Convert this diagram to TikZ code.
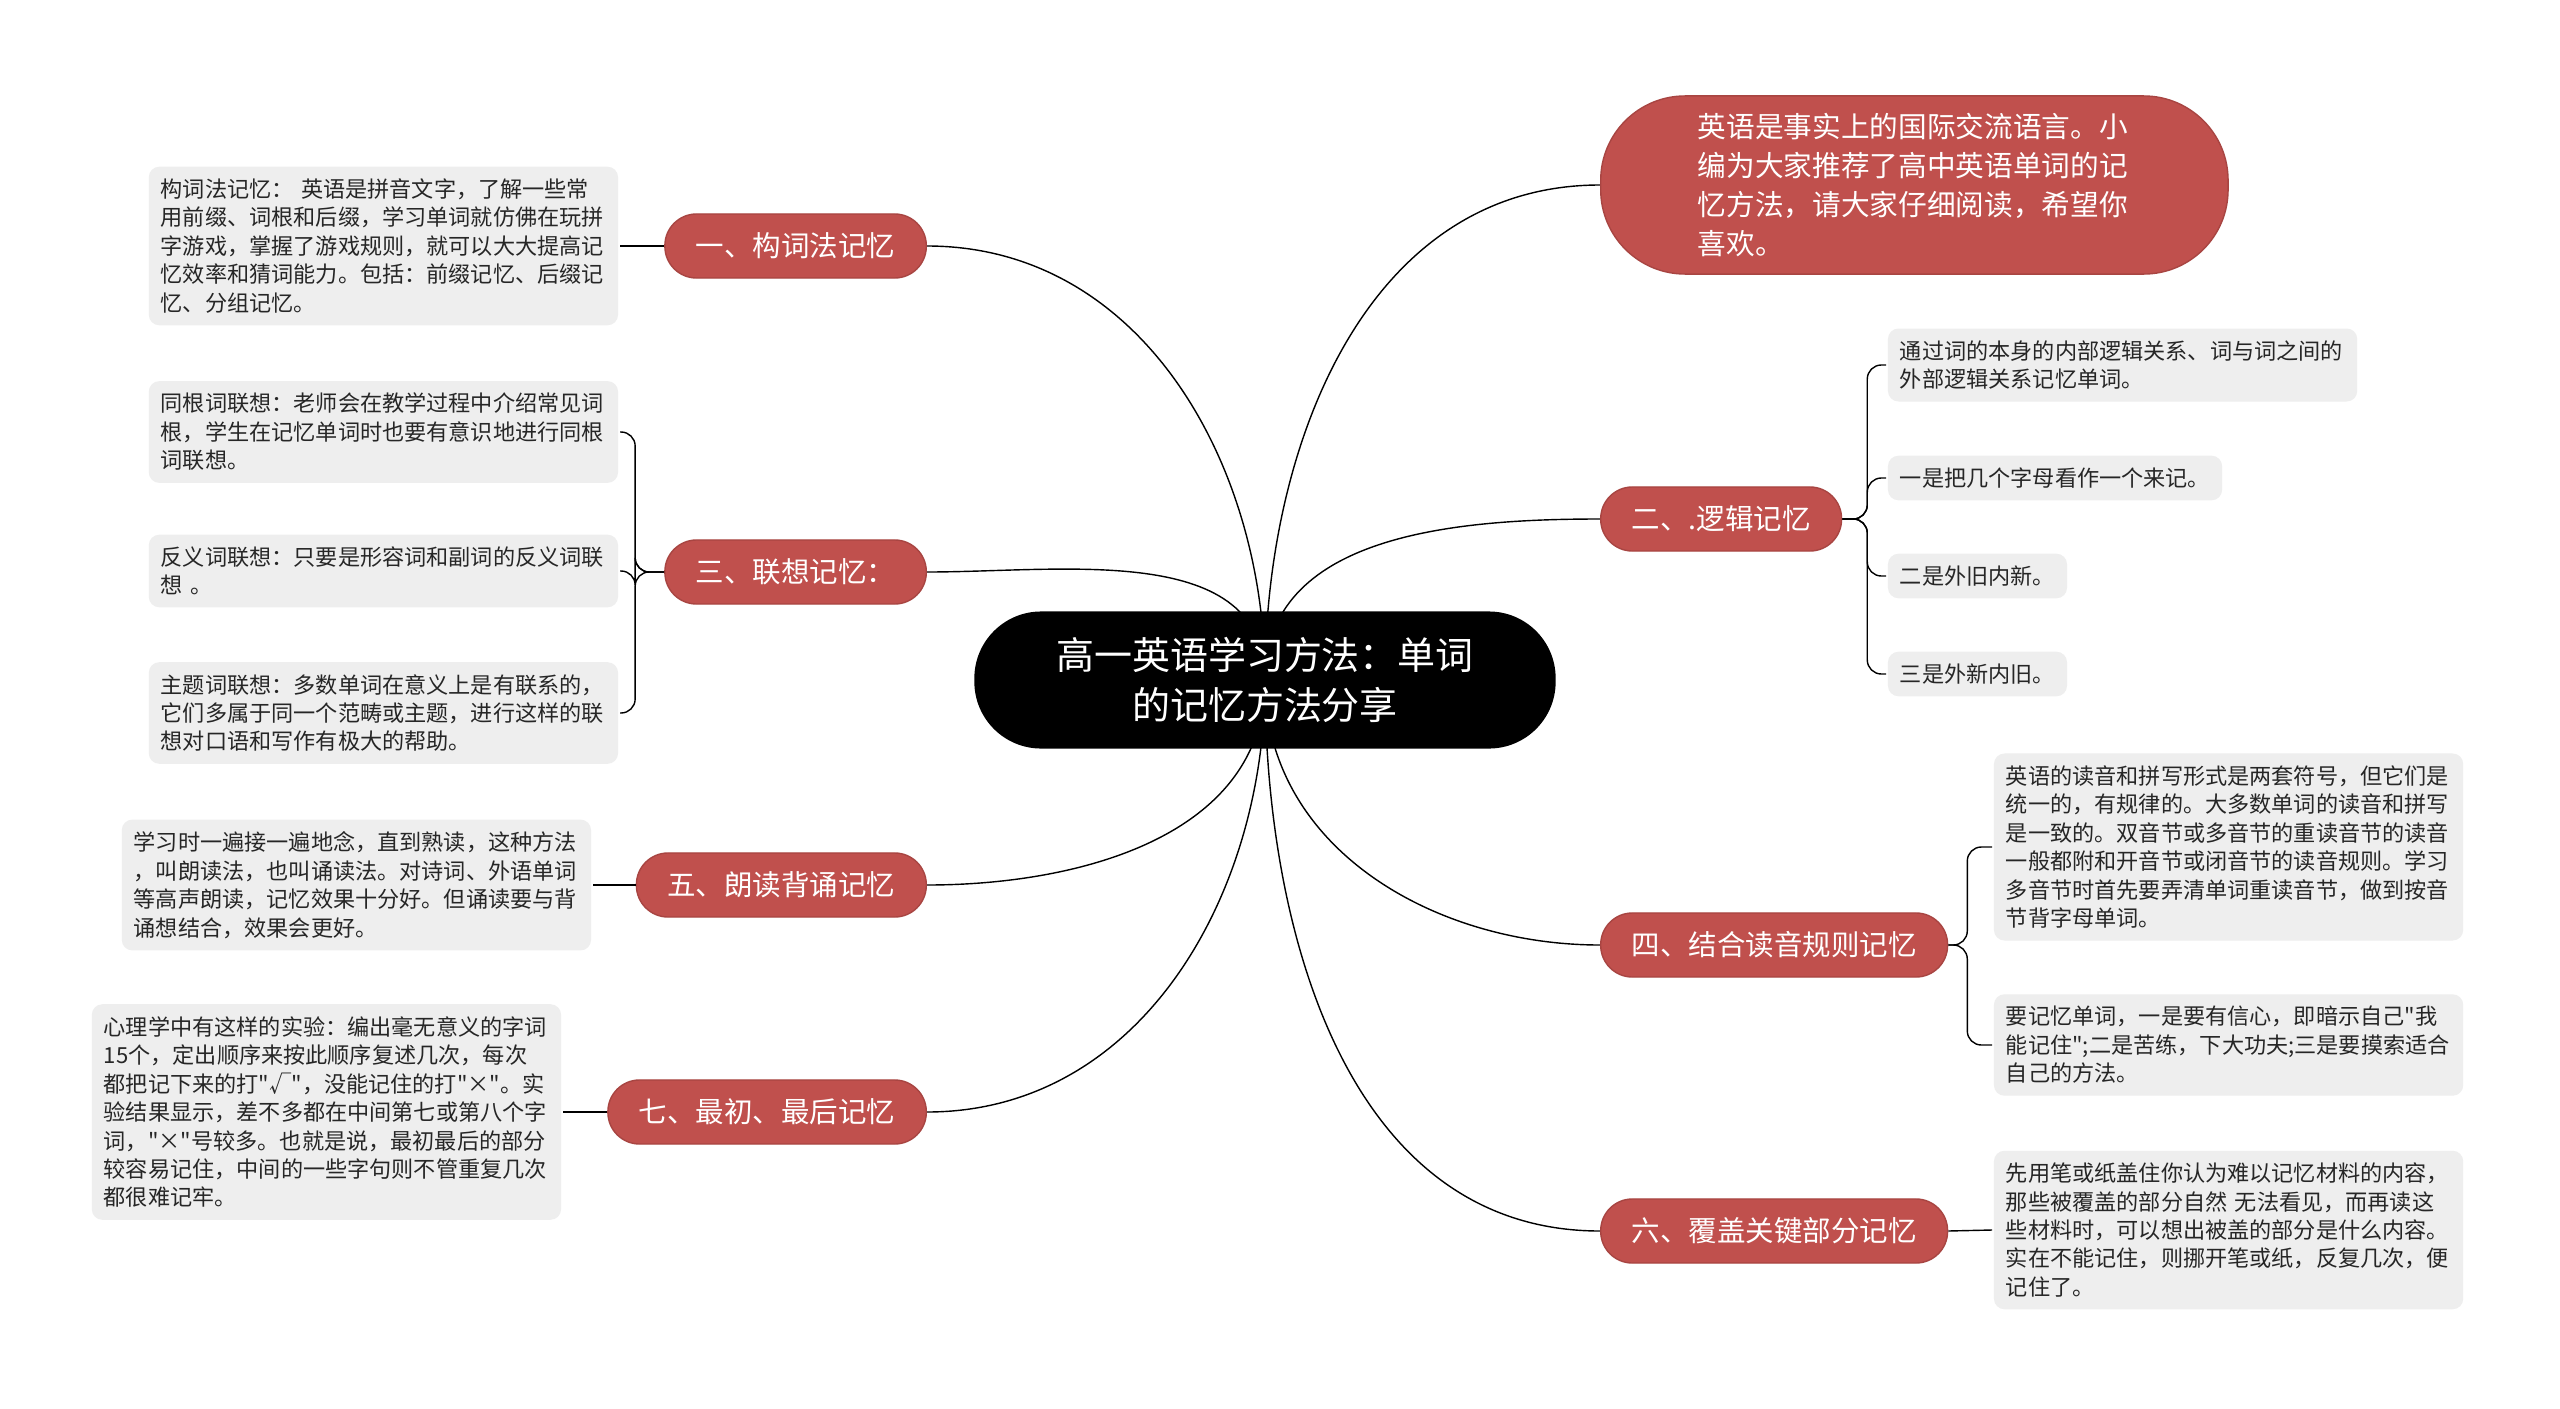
\documentclass[tikz,border=0pt]{standalone}
\usepackage{fontspec}
\setmainfont{Noto Sans CJK SC}[Ligatures=TeXOff]
\usepackage{xcolor}
\usepackage{tikz}
\usetikzlibrary{backgrounds}

\definecolor{branchred}{HTML}{C0504D}
\definecolor{branchedge}{HTML}{A84542}
\definecolor{leafgray}{HTML}{EEEEEE}

\begin{document}
\begin{tikzpicture}[x=0.01cm, y=-0.01cm, line width=1.1pt,
        hub/.style={fill=black, text=white, rounded corners=19pt, align=center,
            minimum width=5.81cm, minimum height=1.37cm, font=\fontsize{10.8pt}{14.4pt}\selectfont},
        intro/.style={fill=branchred, draw=branchedge, line width=0.4pt, text=white, rounded corners=24pt,
            align=left, text width=4.33cm, minimum width=6.27cm, minimum height=1.78cm,
            font=\fontsize{8.15pt}{11pt}\selectfont},
        branch/.style={fill=branchred, draw=branchedge, line width=0.4pt, text=white, rounded corners=9pt,
            minimum height=0.64cm, inner xsep=0.31cm, font=\fontsize{8.1pt}{10pt}\selectfont},
        leaf/.style={fill=leafgray, text=black!85, rounded corners=3pt, align=left, inner sep=0.12cm,
            font=\fontsize{6.3pt}{8.1pt}\selectfont},
        wide/.style={leaf, text width=4.45cm}]
        \useasboundingbox (0,0) rectangle (2560,1409);

        % centre and first level
        \node[hub] (root) at (1265,680)
            {高一英语学习方法：单词\\的记忆方法分享};
        \node[intro, anchor=west] (intro) at (1600,185)
            {英语是事实上的国际交流语言。小\\编为大家推荐了高中英语单词的记\\忆方法，请大家仔细阅读，希望你\\喜欢。};
        \node[branch, anchor=east] (r1) at (927,246) {一、构词法记忆};
        \node[branch, anchor=east] (r3) at (927,572) {三、联想记忆：};
        \node[branch, anchor=east] (r5) at (927,885) {五、朗读背诵记忆};
        \node[branch, anchor=east] (r7) at (927,1112) {七、最初、最后记忆};
        \node[branch, anchor=west] (r2) at (1600,519) {二、.逻辑记忆};
        \node[branch, anchor=west] (r4) at (1600,945) {四、结合读音规则记忆};
        \node[branch, anchor=west] (r6) at (1600,1231) {六、覆盖关键部分记忆};

        % left leaves
        \node[wide, anchor=east] (k1) at (620,246)
            {构词法记忆： 英语是拼音文字，了解一些常\\用前缀、词根和后缀，学习单词就仿佛在玩拼\\字游戏，掌握了游戏规则，就可以大大提高记\\忆效率和猜词能力。包括：前缀记忆、后缀记\\忆、分组记忆。};
        \node[wide, anchor=east] (a1) at (620,432)
            {同根词联想：老师会在教学过程中介绍常见词\\根，学生在记忆单词时也要有意识地进行同根\\词联想。};
        \node[wide, anchor=east] (a2) at (620,571)
            {反义词联想：只要是形容词和副词的反义词联\\想 。};
        \node[wide, anchor=east] (a3) at (620,713)
            {主题词联想：多数单词在意义上是有联系的，\\它们多属于同一个范畴或主题，进行这样的联\\想对口语和写作有极大的帮助。};
        \node[wide, anchor=east] (s1) at (593,885)
            {学习时一遍接一遍地念，直到熟读，这种方法\\，叫朗读法，也叫诵读法。对诗词、外语单词\\等高声朗读，记忆效果十分好。但诵读要与背\\诵想结合，效果会更好。};
        \node[wide, anchor=east] (f1) at (563,1112)
            {心理学中有这样的实验：编出毫无意义的字词\\15个，定出顺序来按此顺序复述几次，每次\\都把记下来的打"√"，没能记住的打"×"。实\\验结果显示，差不多都在中间第七或第八个字\\词，"×"号较多。也就是说，最初最后的部分\\较容易记住，中间的一些字句则不管重复几次\\都很难记牢。};

        % right leaves
        \node[wide, anchor=west] (l1) at (1886,365)
            {通过词的本身的内部逻辑关系、词与词之间的\\外部逻辑关系记忆单词。};
        \node[leaf, anchor=west] (l2) at (1886,478) {一是把几个字母看作一个来记。};
        \node[leaf, anchor=west] (l3) at (1886,576) {二是外旧内新。};
        \node[leaf, anchor=west] (l4) at (1886,674) {三是外新内旧。};
        \node[wide, anchor=west] (p1) at (1992,847)
            {英语的读音和拼写形式是两套符号，但它们是\\统一的，有规律的。大多数单词的读音和拼写\\是一致的。双音节或多音节的重读音节的读音\\一般都附和开音节或闭音节的读音规则。学习\\多音节时首先要弄清单词重读音节，做到按音\\节背字母单词。};
        \node[wide, anchor=west] (p2) at (1992,1045)
            {要记忆单词，一是要有信心，即暗示自己"我\\能记住";二是苦练，下大功夫;三是要摸索适合\\自己的方法。};
        \node[wide, anchor=west] (c1) at (1992,1230)
            {先用笔或纸盖住你认为难以记忆材料的内容，\\那些被覆盖的部分自然 无法看见，而再读这\\些材料时，可以想出被盖的部分是什么内容。\\实在不能记住，则挪开笔或纸，反复几次，便\\记住了。};

        \begin{pgfonlayer}{background}
            \fill[white] (0,0) rectangle (2560,1409);
            % curves out of the centre
            \draw (root.center) to[out=90,in=0] (r1.east);
            \draw (root.center) to[out=90,in=0] (r3.east);
            \draw (root.center) to[out=-90,in=0] (r5.east);
            \draw (root.center) to[out=-90,in=0] (r7.east);
            \draw (root.center) to[out=90,in=180] (intro.west);
            \draw (root.center) to[out=90,in=180] (r2.west);
            \draw (root.center) to[out=-90,in=180] (r4.west);
            \draw (root.center) to[out=-90,in=180] (r6.west);
        \end{pgfonlayer}

        % branch to leaves
        \draw (r1.west) -- (k1.east);
        \draw[rounded corners=4pt] (r3.west) -- ++(-29,0) |- (a1.east);
        \draw[rounded corners=4pt] (r3.west) -- ++(-29,0) |- (a2.east);
        \draw[rounded corners=4pt] (r3.west) -- ++(-29,0) |- (a3.east);
        \draw (r5.west) -- (s1.east);
        \draw (r7.west) -- (f1.east);
        \draw[rounded corners=4pt] (r2.east) -- ++(25,0) |- (l1.west);
        \draw[rounded corners=4pt] (r2.east) -- ++(25,0) |- (l2.west);
        \draw[rounded corners=4pt] (r2.east) -- ++(25,0) |- (l3.west);
        \draw[rounded corners=4pt] (r2.east) -- ++(25,0) |- (l4.west);
        \draw[rounded corners=4pt] (r4.east) -- ++(19,0) |- (p1.west);
        \draw[rounded corners=4pt] (r4.east) -- ++(19,0) |- (p2.west);
        \draw (r6.east) -- (c1.west);
    \end{tikzpicture}
\end{document}
